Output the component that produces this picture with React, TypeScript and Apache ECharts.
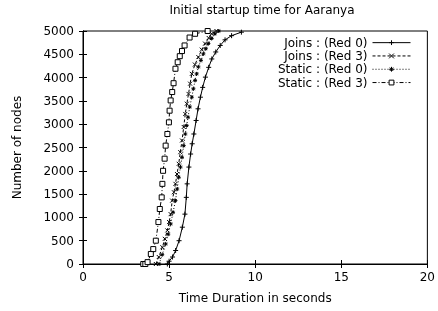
import React, { useEffect, useRef } from "react";
import * as echarts from "echarts";

const titleText = "Initial startup time for Aaranya";
const xName = "Time Duration in seconds";
const yName = "Number of nodes";
const seriesNames = ["Joins : (Red 0)", "Joins : (Red 3)", "Static : (Red 0)", "Static : (Red 3)"];

const joins0X = [4.9, 5.0, 5.2, 5.38, 5.58, 5.77, 5.92, 6.0, 6.05, 6.15, 6.25, 6.34, 6.44, 6.57, 6.68, 6.82, 6.95, 7.11, 7.3, 7.48, 7.71, 7.97, 8.25, 8.63, 9.2];
const joins0Y = [0, 60, 150, 290, 500, 790, 1070, 1430, 1720, 2080, 2360, 2580, 2790, 3080, 3330, 3580, 3790, 4010, 4220, 4400, 4550, 4690, 4810, 4900, 4975];

const joins3X = [4.23, 4.4, 4.61, 4.75, 4.9, 5.0, 5.09, 5.18, 5.28, 5.37, 5.46, 5.56, 5.65, 5.75, 5.85, 5.94, 6.03, 6.13, 6.22, 6.32, 6.5, 6.7, 6.9, 7.09, 7.3, 7.47, 7.75];
const joins3Y = [0, 150, 360, 540, 720, 900, 1070, 1360, 1540, 1720, 1930, 2150, 2400, 2650, 2940, 3220, 3440, 3650, 3870, 4080, 4280, 4440, 4600, 4730, 4850, 4940, 5000];

const static0X = [4.42, 4.6, 4.8, 4.95, 5.09, 5.23, 5.37, 5.47, 5.56, 5.66, 5.75, 5.85, 5.94, 6.02, 6.1, 6.2, 6.32, 6.41, 6.51, 6.6, 6.7, 6.85, 6.99, 7.13, 7.28, 7.47, 7.66, 7.89];
const static0Y = [0, 200, 430, 640, 860, 1110, 1360, 1610, 1860, 2080, 2290, 2540, 2790, 2970, 3150, 3370, 3580, 3760, 3940, 4080, 4230, 4370, 4510, 4620, 4730, 4840, 4940, 5000];

const static3X = [3.5, 3.62, 3.75, 3.94, 4.08, 4.23, 4.38, 4.46, 4.57, 4.61, 4.65, 4.74, 4.8, 4.9, 4.99, 5.03, 5.09, 5.18, 5.26, 5.37, 5.5, 5.62, 5.75, 5.9, 6.19, 6.51, 7.24];
const static3Y = [0, 0, 40, 215, 320, 500, 900, 1180, 1430, 1720, 2000, 2260, 2540, 2790, 3040, 3290, 3510, 3690, 3880, 4190, 4330, 4460, 4570, 4690, 4860, 4940, 5000];

const xTicksMax = 20;
const yTicksMax = 5000;

const PLUS = "path://M0,5H10M5,0V10";
const CROSS = "path://M1,1L9,9M9,1L1,9";
const STAR = "path://M5,0V10M0,5H10M1.5,1.5L8.5,8.5M8.5,1.5L1.5,8.5";

function zip(xs: number[], ys: number[]) {
  return xs.map((x, i) => [x, ys[i]]);
}

export default function App() {
  const ref = useRef<HTMLDivElement>(null);
  useEffect(() => {
    if (!ref.current) return;
    const chart = echarts.init(ref.current, null, { renderer: "svg" });
    const font = "DejaVu Sans, Liberation Sans, sans-serif";
    const strokeSym = { color: "transparent", borderColor: "#000", borderWidth: 1 };
    const mk = (name: string, xs: number[], ys: number[], symbol: string, size: number, lineType: any, itemStyle: any) => ({
      name,
      type: "line",
      data: zip(xs, ys),
      symbol,
      symbolSize: size,
      showSymbol: true,
      lineStyle: { color: "#000", width: 1, type: lineType },
      itemStyle,
      xAxisIndex: 0,
      yAxisIndex: 0,
    });
    chart.setOption({
      animation: false,
      textStyle: { fontFamily: font },
      title: {
        text: titleText,
        left: 257,
        top: -1,
        textAlign: "center",
        textStyle: { fontSize: 12, fontWeight: "normal", color: "#000", fontFamily: font },
      },
      grid: { left: 83, right: 6, top: 31, bottom: 47, containLabel: false, show: true, borderColor: "#000", borderWidth: 1 },
      legend: {
        orient: "vertical",
        right: 22,
        top: 31,
        align: "right",
        itemWidth: 38,
        itemHeight: 6,
        itemGap: 0,
        lineStyle: { width: 1 },
        itemStyle: { borderWidth: 1 },
        textStyle: { fontSize: 12, color: "#000", fontFamily: font, lineHeight: 13.3 },
        data: seriesNames,
      },
      xAxis: [
        {
          type: "value",
          min: 0,
          max: xTicksMax,
          interval: 5,
          name: xName,
          nameLocation: "middle",
          nameGap: 28,
          nameTextStyle: { fontSize: 12, color: "#000", fontFamily: font },
          axisLine: { show: true, lineStyle: { color: "#000" } },
          axisTick: { show: true, inside: true, length: 4, lineStyle: { color: "#000" } },
          axisLabel: { fontSize: 12, color: "#000", margin: 7, fontFamily: font, formatter: (v: number) => String(v) },
          splitLine: { show: false },
        },
        {
          type: "value",
          position: "top",
          min: 0,
          max: xTicksMax,
          interval: 5,
          axisLine: { show: true, lineStyle: { color: "#000" } },
          axisTick: { show: true, inside: true, length: 4, lineStyle: { color: "#000" } },
          axisLabel: { show: false },
          splitLine: { show: false },
        },
      ],
      yAxis: [
        {
          type: "value",
          min: 0,
          max: yTicksMax,
          interval: 500,
          name: yName,
          nameLocation: "middle",
          nameGap: 60,
          nameTextStyle: { fontSize: 12, color: "#000", fontFamily: font },
          axisLine: { show: true, lineStyle: { color: "#000" } },
          axisTick: { show: true, inside: true, length: 4, lineStyle: { color: "#000" } },
          axisLabel: { fontSize: 12, color: "#000", margin: 9, fontFamily: font, formatter: (v: number) => String(v) },
          splitLine: { show: false },
        },
        {
          type: "value",
          position: "right",
          min: 0,
          max: yTicksMax,
          interval: 500,
          axisLine: { show: true, lineStyle: { color: "#000" } },
          axisTick: { show: true, inside: true, length: 4, lineStyle: { color: "#000" } },
          axisLabel: { show: false },
          splitLine: { show: false },
        },
      ],
      series: [
        mk(seriesNames[0], joins0X, joins0Y, PLUS, 5, "solid", strokeSym),
        mk(seriesNames[1], joins3X, joins3Y, CROSS, 4, [3, 2], strokeSym),
        mk(seriesNames[2], static0X, static0Y, STAR, 4, [1, 2], strokeSym),
        mk(seriesNames[3], static3X, static3Y, "rect", 5, [4, 2, 1, 2], { color: "#fff", borderColor: "#000", borderWidth: 1 }),
      ],
    });
    return () => chart.dispose();
  }, []);
  return <div ref={ref} style={{ position: "fixed", left: 0, top: 0, width: 438, height: 311 }} />;
}
